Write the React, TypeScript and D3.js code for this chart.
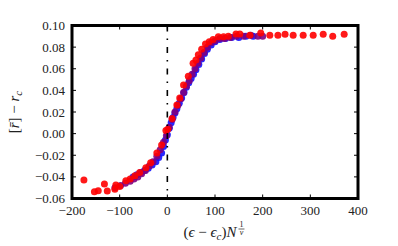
import React, { useEffect, useRef } from 'react';
import * as d3 from 'd3';

// blue series (narrow x range)
const blueX = [-72, -64, -56, -48, -40, -32, -24, -18, -12, -8, -4, 0, 4, 8, 12, 16, 20, 25, 30, 35, 40, 45, 50, 55, 60, 66, 72, 78, 84, 92, 100, 110, 122, 135, 150, 165, 180];
const blueY = [-0.040, -0.038, -0.036, -0.034, -0.032, -0.029, -0.026, -0.022, -0.018, -0.012, -0.006, -0.001, 0.005, 0.010, 0.015, 0.019, 0.023, 0.028, 0.033, 0.038, 0.043, 0.047, 0.051, 0.055, 0.059, 0.064, 0.069, 0.074, 0.078, 0.082, 0.085, 0.087, 0.088, 0.089, 0.089, 0.090, 0.090];

const purpleX = [-110, -98, -88, -78, -70, -62, -54, -46, -38, -30, -22, -15, -8, -2, 4, 10, 16, 22, 28, 34, 40, 46, 52, 58, 64, 70, 77, 84, 92, 100, 110, 120, 132, 145, 160, 175, 190, 200];
const purpleY = [-0.050, -0.048, -0.046, -0.044, -0.042, -0.040, -0.037, -0.034, -0.030, -0.026, -0.021, -0.015, -0.008, -0.002, 0.006, 0.013, 0.020, 0.026, 0.032, 0.038, 0.044, 0.049, 0.055, 0.060, 0.065, 0.070, 0.075, 0.080, 0.084, 0.086, 0.088, 0.088, 0.089, 0.090, 0.090, 0.091, 0.090, 0.090];

const redX = [-175, -153, -145, -132, -126, -110, -108, -100, -87, -78, -68, -58, -45, -35, -22, -12, -3, 1, 10, 20, 26, 34, 44, 54, 60, 65, 72, 80, 88, 96, 107, 118, 128, 144, 152, 173, 196, 215, 232, 247, 264, 285, 306, 327, 347, 371];
const redY = [-0.043, -0.0537, -0.0528, -0.0466, -0.053, -0.0515, -0.0475, -0.049, -0.0435, -0.042, -0.039, -0.036, -0.0315, -0.027, -0.018, -0.0105, 0.003, 0.004, 0.014, 0.0265, 0.033, 0.045, 0.053, 0.065, 0.068, 0.073, 0.078, 0.083, 0.085, 0.087, 0.0896, 0.0896, 0.090, 0.0921, 0.0921, 0.091, 0.093, 0.091, 0.091, 0.092, 0.091, 0.091, 0.091, 0.092, 0.090, 0.092];

const xTicks = [-200, -100, 0, 100, 200, 300, 400];
const yTicks = [-0.06, -0.04, -0.02, 0.0, 0.02, 0.04, 0.06, 0.08, 0.10];

const series = [
  { xs: blueX, ys: blueY, color: '#1010ff' },
  { xs: purpleX, ys: purpleY, color: '#800080' },
  { xs: redX, ys: redY, color: '#ff0000' },
];

const W = 398;
const H = 246;
const FONT = '"Liberation Serif", "DejaVu Serif", serif';

export default function App() {
  const svgRef = useRef<SVGSVGElement>(null);

  useEffect(() => {
    if (!svgRef.current) return;
    const svg = d3.select(svgRef.current);
    svg.selectAll('*').remove();

    const left = 72, right = 358, top = 25.5, bottom = 198.5;
    const x = d3.scaleLinear().domain([-200, 400]).range([left, right]);
    const y = d3.scaleLinear().domain([-0.06, 0.10]).range([bottom, top]);

    const clip = svg.append('defs').append('clipPath').attr('id', 'plotclip');
    clip.append('rect').attr('x', left).attr('y', top).attr('width', right - left).attr('height', bottom - top);

    // points
    const pts = svg.append('g').attr('clip-path', 'url(#plotclip)');
    series.forEach(s => {
      pts.append('g')
        .selectAll('circle')
        .data(s.xs.map((v, i) => [v, s.ys[i]]))
        .join('circle')
        .attr('cx', d => x(d[0]))
        .attr('cy', d => y(d[1]))
        .attr('r', 3.5)
        .attr('fill', s.color)
        .attr('fill-opacity', 0.9);
    });

    // critical point line
    svg.append('line')
      .attr('x1', x(0)).attr('x2', x(0))
      .attr('y1', top).attr('y2', bottom)
      .attr('stroke', '#000')
      .attr('stroke-width', 1.6)
      .attr('stroke-dasharray', '6,7,1.5,7');

    // ticks (inside, all sides)
    const tk = svg.append('g').attr('stroke', '#000').attr('stroke-width', 1);
    xTicks.forEach(t => {
      tk.append('line').attr('x1', x(t)).attr('x2', x(t)).attr('y1', bottom).attr('y2', bottom - 4);
      tk.append('line').attr('x1', x(t)).attr('x2', x(t)).attr('y1', top).attr('y2', top + 4);
    });
    yTicks.forEach(t => {
      tk.append('line').attr('x1', left).attr('x2', left + 4).attr('y1', y(t)).attr('y2', y(t));
      tk.append('line').attr('x1', right).attr('x2', right - 4).attr('y1', y(t)).attr('y2', y(t));
    });

    // frame
    svg.append('rect')
      .attr('x', left).attr('y', top)
      .attr('width', right - left).attr('height', bottom - top)
      .attr('fill', 'none').attr('stroke', '#000').attr('stroke-width', 3);

    // tick labels
    const fmtY = d3.format('.2f');
    svg.append('g')
      .attr('font-family', FONT).attr('font-size', 13).attr('fill', '#222')
      .selectAll('text').data(yTicks).join('text')
      .attr('x', left - 7).attr('y', d => y(d)).attr('dy', '0.35em')
      .attr('text-anchor', 'end')
      .text(d => fmtY(d).replace('-', '\u2212'));
    svg.append('g')
      .attr('font-family', FONT).attr('font-size', 13).attr('fill', '#222')
      .selectAll('text').data(xTicks).join('text')
      .attr('x', d => x(d)).attr('y', 215)
      .attr('text-anchor', 'middle')
      .text(d => String(d).replace('-', '\u2212'));

    // y label
    const yl = svg.append('text')
      .attr('transform', `translate(19,112) rotate(-90)`)
      .attr('text-anchor', 'middle')
      .attr('font-family', FONT).attr('font-size', 15).attr('fill', '#222');
    yl.append('tspan').text('[');
    yl.append('tspan').attr('font-style', 'italic').text('r\u0304');
    yl.append('tspan').text('] \u2212 ');
    yl.append('tspan').attr('font-style', 'italic').text('r');
    yl.append('tspan').attr('font-style', 'italic').attr('font-size', 11).attr('dy', 3).text('c');

    // x label
    const xl = svg.append('text')
      .attr('x', 210).attr('y', 237)
      .attr('text-anchor', 'middle')
      .attr('font-family', FONT).attr('font-size', 15).attr('fill', '#222');
    xl.append('tspan').text('(');
    xl.append('tspan').attr('font-style', 'italic').text('\u03f5');
    xl.append('tspan').text(' \u2212 ');
    xl.append('tspan').attr('font-style', 'italic').text('\u03f5');
    xl.append('tspan').attr('font-style', 'italic').attr('font-size', 11).attr('dy', 3).text('c');
    xl.append('tspan').attr('dy', -3).text(')');
    xl.append('tspan').attr('font-style', 'italic').text('N');
    const bb = (xl.node() as SVGTextElement).getBBox();
    const fx = bb.x + bb.width + 4;
    const frac = svg.append('g').attr('font-family', FONT).attr('fill', '#222');
    frac.append('text').attr('x', fx).attr('y', 227).attr('text-anchor', 'middle').attr('font-size', 8).text('1');
    frac.append('line').attr('x1', fx - 3).attr('x2', fx + 3).attr('y1', 229).attr('y2', 229).attr('stroke', '#222').attr('stroke-width', 0.7);
    frac.append('text').attr('x', fx).attr('y', 235).attr('text-anchor', 'middle').attr('font-size', 8).attr('font-style', 'italic').text('\u03bd');
  }, []);

  return (
    <svg ref={svgRef} width={W} height={H} style={{ position: 'absolute', left: 0, top: 0, background: '#fff' }} />
  );
}
